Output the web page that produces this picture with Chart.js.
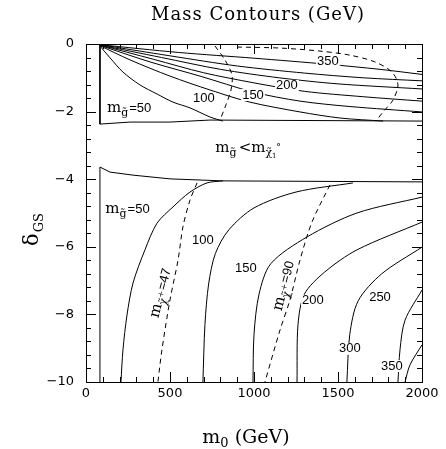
<!DOCTYPE html>
<html><head><meta charset="utf-8">
<script src="https://cdn.jsdelivr.net/npm/chart.js@4/dist/chart.umd.min.js"></script>
<style>html,body{margin:0;padding:0;background:#fff}#wrap{width:446px;height:449px}</style>
</head><body><div id="wrap"><canvas id="c"></canvas></div>
<script>
// ---- data (m0 in GeV, delta_GS) ----
const xTicks = [0, 500, 1000, 1500, 2000];
const yTicks = [0, -2, -4, -6, -8, -10];
const titleText = 'Mass Contours (GeV)';

// upper region gluino-mass contours
const g50_up  = [[83,-0.06],[143,-0.41],[220,-0.83],[321,-1.21],[423,-1.48],[518,-1.72],[619,-1.89],[738,-2.16],[815,-2.28]];
const g100_up = [[83,-0.05],[262,-0.47],[500,-0.95],[738,-1.36],[976,-1.72],[1274,-2.01],[1512,-2.19],[1768,-2.28]];
const g150_up = [[83,-0.04],[381,-0.53],[679,-0.95],[994,-1.42],[1274,-1.69],[1571,-1.85],[2000,-2.01]];
const g200_up = [[83,-0.03],[400,-0.45],[700,-0.85],[1000,-1.15],[1300,-1.40],[1650,-1.56],[2000,-1.69]];
const g250_up = [[83,-0.03],[450,-0.40],[800,-0.75],[1150,-1.00],[1500,-1.18],[2000,-1.33]];
const g300_up = [[83,-0.02],[500,-0.35],[900,-0.65],[1300,-0.86],[1650,-1.00],[2000,-1.09]];
const g350_up = [[83,-0.02],[550,-0.25],[1000,-0.42],[1440,-0.60],[1750,-0.75],[2000,-0.90]];
// boundaries
const bnd_up   = [[83,0],[83,-2.37],[262,-2.31],[500,-2.31],[738,-2.25],[2000,-2.28]];
const bnd_low  = [[83,-10],[83,-3.64],[143,-3.79],[280,-3.88],[500,-3.99],[815,-4.05],[2000,-4.08]];
// lower region gluino-mass contours
const g50_low  = [[815,-4.05],[720,-4.11],[619,-4.38],[518,-4.82],[423,-5.30],[351,-6.09],[280,-7.07],[244,-8.02],[220,-9.05],[208,-10]];
const g100_low = [[1589,-4.11],[1250,-4.38],[1000,-4.85],[850,-5.50],[770,-6.20],[730,-7.10],[708,-8.30],[696,-10]];
const g150_low = [[2000,-4.53],[1613,-5.00],[1315,-5.71],[1100,-6.50],[1030,-7.40],[1000,-8.60],[994,-10]];
const g200_low = [[2000,-5.27],[1613,-6.09],[1420,-6.75],[1300,-7.40],[1262,-8.30],[1256,-10]];
const g250_low = [[2000,-6.01],[1760,-6.80],[1620,-7.60],[1570,-8.60],[1553,-10]];
const g300_low = [[2000,-7.28],[1899,-8.17],[1869,-9.05],[1857,-10]];
const g350_low = [[2000,-8.90],[1928,-9.50],[1899,-10]];
// chargino mass contours (dashed)
const c47_up  = [[768,-0.06],[827,-0.47],[869,-0.92],[863,-1.36],[833,-1.80],[798,-2.25]];
const c90_up  = [[899,-0.09],[1155,-0.12],[1393,-0.21],[1571,-0.33],[1720,-0.53],[1821,-0.83],[1857,-1.21],[1827,-1.66],[1768,-2.01],[1726,-2.28]];
const c47_low = [[661,-4.11],[619,-4.62],[577,-5.41],[548,-6.39],[500,-7.57],[452,-9.05],[428,-10]];
const c90_low = [[1452,-4.17],[1345,-5.27],[1274,-6.39],[1214,-7.57],[1155,-8.46],[1065,-10]];

// contour labels: [text, m0, delta]
const numLabels = [
  ['100',702,-1.60],['150',994,-1.51],['200',1196,-1.24],['350',1440,-0.53],
  ['100',696,-5.80],['150',952,-6.63],['200',1351,-7.60],['250',1750,-7.51],['300',1571,-9.02],['350',1821,-9.53]
];

const solid = (d) => ({data: d.map(([x,y])=>({x,y})), showLine:true, pointRadius:0, borderColor:'#000', borderWidth:1, tension:0.3, fill:false});
const dashed = (d) => Object.assign(solid(d), {borderDash:[5,4]});
const bound = (d) => Object.assign(solid(d), {tension:0});

const datasets = [
  ...[g50_up,g100_up,g150_up,g200_up,g250_up,g300_up,g350_up,g50_low,g100_low,g150_low,g200_low,g250_low,g300_low,g350_low].map(solid),
  ...[bnd_up,bnd_low].map(bound),
  ...[c47_up,c90_up,c47_low,c90_low].map(dashed)
];

function drawM(ctx, x, y, subFn, rest) {
  ctx.font = '15px "DejaVu Serif"';
  ctx.fillText('m', x, y);
  let cx = x + ctx.measureText('m').width;
  cx = subFn(ctx, cx, y);
  if (rest) { ctx.font = '13px "Liberation Sans"'; ctx.fillText(rest, cx, y); cx += ctx.measureText(rest).width; }
  return cx;
}
function subG(ctx, cx, y) {
  ctx.font = '11px "DejaVu Serif"';
  ctx.fillText('g\u0303', cx, y + 4);
  return cx + ctx.measureText('g').width + 1;
}
function subChi(n) {
  return function(ctx, cx, y) {
    ctx.font = '11px "DejaVu Serif"';
    ctx.fillText('\u03C7\u0303', cx, y + 4);
    let w = ctx.measureText('\u03C7').width;
    ctx.font = '8px "DejaVu Serif"';
    ctx.fillText(n, cx + w, y - 1);
    return cx + w + ctx.measureText(n).width + 1;
  };
}
function subChi1(ctx, cx, y) {
  ctx.font = '11px "DejaVu Serif"';
  ctx.fillText('\u03C7\u0303', cx, y + 4);
  let w = ctx.measureText('\u03C7').width;
  ctx.font = '7px "DejaVu Serif"';
  ctx.fillText('1', cx + w, y + 6);
  ctx.font = '10px "DejaVu Serif"';
  ctx.fillText('\u00B0', cx + w + 4, y - 2);
  return cx + w + 10;
}

const deco = {
  id: 'deco',
  afterDraw(chart) {
    const {ctx, chartArea: a, scales: {x, y}} = chart;
    ctx.save();
    ctx.strokeStyle = '#000'; ctx.lineWidth = 1;
    ctx.strokeRect(a.left + 0.5, a.top + 0.5, a.right - a.left, a.bottom - a.top);
    ctx.beginPath();
    for (let v = 0; v <= 2000; v += 100) {
      const px = Math.round(x.getPixelForValue(v)) + 0.5;
      const len = (v % 500 === 0) ? 10 : 5;
      ctx.moveTo(px, a.bottom); ctx.lineTo(px, a.bottom - len);
      ctx.moveTo(px, a.top); ctx.lineTo(px, a.top + len);
    }
    for (let i = 0; i <= 25; i++) {
      const v = -i * 0.4;
      const py = Math.round(y.getPixelForValue(v)) + 0.5;
      const len = (i % 5 === 0) ? 10 : 5;
      ctx.moveTo(a.left, py); ctx.lineTo(a.left + len, py);
      ctx.moveTo(a.right, py); ctx.lineTo(a.right - len, py);
    }
    ctx.stroke();
    ctx.fillStyle = '#000';
    // title
    ctx.font = '18px "DejaVu Serif"';
    ctx.letterSpacing = '1px';
    ctx.textAlign = 'center'; ctx.textBaseline = 'alphabetic';
    ctx.fillText(titleText, (a.left + a.right) / 2 + 4, 20);
    ctx.letterSpacing = '0px';
    // numeric contour labels
    ctx.font = '13px "Liberation Sans"';
    ctx.textAlign = 'center'; ctx.textBaseline = 'middle';
    for (const [t, m, d] of numLabels) {
      const px = x.getPixelForValue(m), py = y.getPixelForValue(d);
      const w = ctx.measureText(t).width;
      ctx.fillStyle = '#fff'; ctx.fillRect(px - w/2 - 1, py - 6, w + 2, 12);
      ctx.fillStyle = '#000'; ctx.fillText(t, px, py);
    }
    ctx.textAlign = 'left'; ctx.textBaseline = 'alphabetic';
    drawM(ctx, x.getPixelForValue(125), y.getPixelForValue(-2.02), subG, '=50');
    drawM(ctx, x.getPixelForValue(115), y.getPixelForValue(-5.00), subG, '=50');
    {
      const bx = x.getPixelForValue(770), by = y.getPixelForValue(-3.2);
      ctx.font = '15px "DejaVu Serif"';
      ctx.fillText('m', bx, by);
      let cx = bx + ctx.measureText('m').width;
      cx = subG(ctx, cx, by);
      ctx.font = '15px "DejaVu Serif"';
      ctx.fillText('<m', cx + 1, by);
      cx += 1 + ctx.measureText('<m').width;
      subChi1(ctx, cx, by);
    }
    for (const [m, d, n] of [[440,-7.34,'47'],[1173,-7.13,'90']]) {
      ctx.save();
      ctx.translate(x.getPixelForValue(m), y.getPixelForValue(d));
      ctx.rotate(-Math.PI * 0.42);
      drawM(ctx, -26, 5, subChi('+'), '=' + n);
      ctx.restore();
    }
    // x title
    const tx = (a.left + a.right) / 2 - 8;
    const ty = 443;
    ctx.font = '19px "DejaVu Serif"';
    const w1 = ctx.measureText('m').width;
    ctx.font = '13px "DejaVu Serif"';
    const w2 = ctx.measureText('0').width;
    ctx.font = '19px "DejaVu Serif"';
    const w3 = ctx.measureText(' (GeV)').width;
    let sx = tx - (w1 + w2 + w3) / 2;
    ctx.fillText('m', sx, ty); sx += w1;
    ctx.font = '13px "DejaVu Serif"'; ctx.fillText('0', sx, ty + 4); sx += w2;
    ctx.font = '19px "DejaVu Serif"'; ctx.fillText(' (GeV)', sx, ty);
    // y title
    ctx.save();
    ctx.translate(38, 246);
    ctx.rotate(-Math.PI / 2);
    ctx.font = '21px "DejaVu Serif"';
    ctx.fillText('\u03B4', 0, 0);
    const wd = ctx.measureText('\u03B4').width;
    ctx.font = '13px "DejaVu Serif"';
    ctx.fillText('GS', wd + 1, 5);
    ctx.restore();
    ctx.restore();
  }
};

new Chart(document.getElementById('c'), {
  type: 'scatter',
  data: { datasets },
  options: {
    responsive: true, maintainAspectRatio: false, animation: false, devicePixelRatio: 1,
    layout: { padding: { left: 0, right: 24, top: 44, bottom: 0 } },
    plugins: { legend: { display: false }, tooltip: { enabled: false }, title: { display: false } },
    scales: {
      x: { type: 'linear', min: 0, max: 2000,
           afterBuildTicks: (s) => { s.ticks = xTicks.map(v => ({value: v})); },
           ticks: { color: '#000', font: { family: '"DejaVu Sans"', size: 13 }, padding: 4, maxRotation: 0,
                    callback: (v) => String(v) },
           grid: { display: false, drawTicks: false }, border: { display: false },
           afterFit: (s) => { s.height = 67; } },
      y: { type: 'linear', min: -10, max: 0,
           afterBuildTicks: (s) => { s.ticks = yTicks.map(v => ({value: v})); },
           ticks: { color: '#000', font: { family: '"DejaVu Sans"', size: 13 }, padding: 12,
                    callback: (v) => v < 0 ? '\u2212' + Math.abs(v) : String(v) },
           grid: { display: false, drawTicks: false }, border: { display: false },
           afterFit: (s) => { s.width = 86; } }
    }
  },
  plugins: [deco]
});
</script></body></html>
